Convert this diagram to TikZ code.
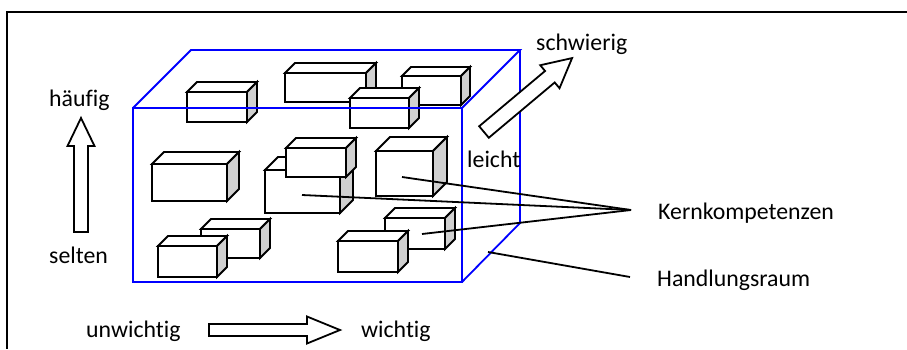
\documentclass[tikz,border=0pt]{standalone}
\usepackage{fontspec}
\setmainfont{Carlito}[Ligatures=NoCommon]

\definecolor{seite}{RGB}{208,208,208}

% quader: x1, y1, x2, y2 of the front face, depth
\newcommand{\quader}[5]{%
  \filldraw [kante, fill=white] (#1,#2) rectangle (#3,#4);
  \filldraw [kante, fill=white] (#1,#2) -- (#1+#5,#2-#5) -- (#3+#5,#2-#5) -- (#3,#2) -- cycle;
  \filldraw [kante, fill=seite] (#3,#2) -- (#3+#5,#2-#5) -- (#3+#5,#4-#5) -- (#3,#4) -- cycle;
}
% blockpfeil: tail x, y, angle, length, shaft, head width, head length
\newcommand{\blockpfeil}[7]{%
  \begin{scope}[shift={(#1,#2)}, rotate=#3]
    \filldraw [kante, fill=white] (0,-#5/2) -- (#4-#7,-#5/2) -- (#4-#7,-#6/2) -- (#4,0)
      -- (#4-#7,#6/2) -- (#4-#7,#5/2) -- (0,#5/2) -- cycle;
  \end{scope}
}

\begin{document}
\begin{tikzpicture}[x=1pt, y=-1pt,
    kante/.style={black, line width=1.8pt, line join=miter},
    raum/.style={blue, line width=1.8pt},
    linie/.style={black, line width=1.8pt},
    lbl/.style={inner sep=0pt, anchor=base west, font=\fontsize{23.8}{28}\selectfont}]
  \useasboundingbox (0,0) rectangle (907,349);
  \draw [line width=1.2pt] (907,12) -- (7,12) -- (7,349);

  \quader{187}{92}{247}{122}{10}
  \quader{285}{73}{366}{102}{10}
  \quader{402}{76}{461}{105}{9}
  \quader{350}{98}{409}{128}{10}
  \quader{152}{164}{227}{201}{12}
  \quader{265}{170}{340}{213}{13}
  \quader{286}{148}{346}{177}{10}
  \quader{376}{151}{433}{196}{14}
  \quader{201}{229}{260}{258}{10}
  \quader{158}{246}{217}{277}{10}
  \quader{385}{218}{445}{249}{10}
  \quader{338}{241}{398}{272}{10}

  \draw [raum] (133,108) rectangle (462,282);
  \draw [raum] (133,108) -- (191,50) -- (520,50) -- (462,108);
  \draw [raum] (520,50) -- (520,223) -- (462,282);

  \blockpfeil{81}{232}{90}{114}{14}{27}{28}
  \blockpfeil{209}{330}{0}{131}{12}{27}{33}
  \blockpfeil{484}{132}{40}{115}{15}{30}{29}

  \node [lbl] (haeufig) at (49,106) {häufig};
  \node [lbl] (selten) at (49,263) {selten};
  \node [lbl] (unwichtig) at (86,337) {unwichtig};
  \node [lbl] (wichtig) at (361,337) {wichtig};
  \node [lbl] (schwierig) at (536,50) {schwierig};
  \node [lbl] (leicht) at (467,167) {leicht};
  \node [lbl] (kern) at (658,219) {Kernkompetenzen};
  \node [lbl] (handlung) at (657,286) {Handlungsraum};

  \coordinate (k1) at (402,177);
  \coordinate (k2) at (302,195);
  \coordinate (k3) at (422,234);
  \coordinate (kk) at (631,210);
  \coordinate (h1) at (488,252);
  \coordinate (hh) at (630,277);
  \draw [linie] (k1) -- (kk);
  \draw [linie] (k2) -- (kk);
  \draw [linie] (k3) -- (kk);
  \draw [linie] (h1) -- (hh);
\end{tikzpicture}
\end{document}
